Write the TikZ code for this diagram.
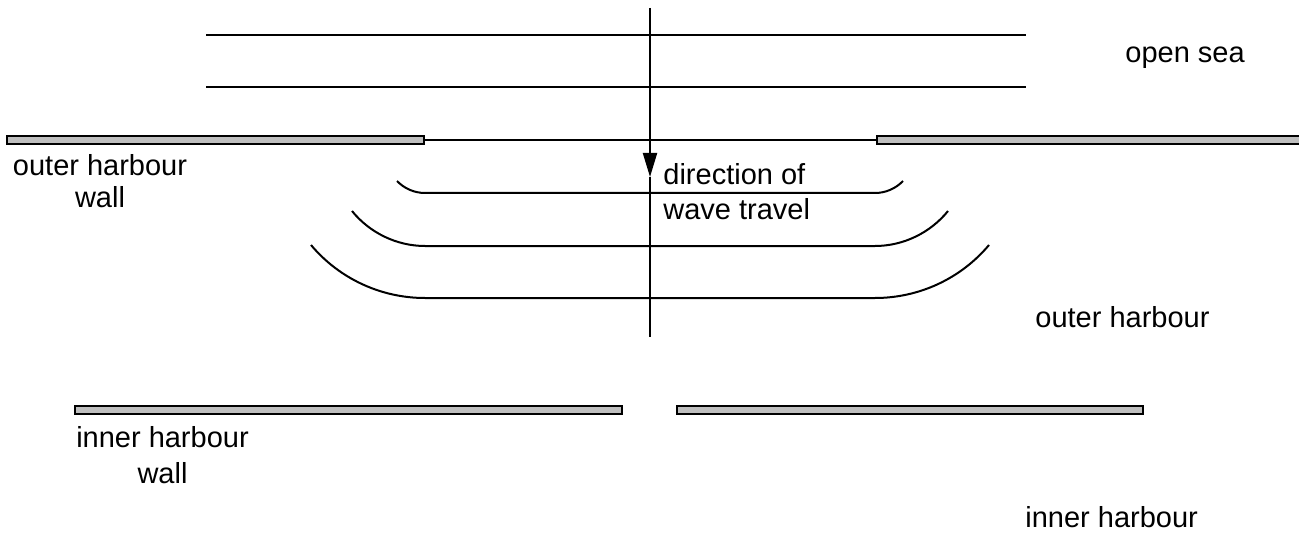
\documentclass[tikz,border=0pt]{standalone}
\usepackage{fontspec}
\setmainfont{Liberation Sans}
\usetikzlibrary{arrows.meta}
\tikzset{>=Triangle}
\tikzset{%
    wall/.style={draw=black, fill=gray!50, line width=1pt},
    crest/.style={line width=1pt},
    label/.style={inner sep=0pt, font=\fontsize{14.5}{16}\selectfont}
}

\begin{document}
\begin{tikzpicture}[x=0.5pt,y=-0.5pt]
    \useasboundingbox (0,0) rectangle (1299,534);

    % open sea
    \draw[crest] (206,35) -- (1026,35);
    \draw[crest] (206,87) -- (1026,87);

    % outer harbour wall with its gap
    \draw[wall] (7,136) rectangle (424,144);
    \draw[wall] (877,136) rectangle (1310,144);
    \coordinate (gl) at (424,140);
    \coordinate (gr) at (877,140);
    \draw[crest] (gl) -- (gr);

    % diffracted crests
    \draw[crest] (397,181) .. controls (404.3,188.6) and (414.5,193) .. (425,193)
        -- (875,193) .. controls (885.5,193) and (895.7,188.6) .. (903,181);
    \draw[crest] (352,211) .. controls (369.7,232.9) and (396.8,246) .. (425,246)
        -- (875,246) .. controls (903.2,246) and (930.3,232.9) .. (948,211);
    \draw[crest] (311,245) .. controls (339.3,278.7) and (381,298) .. (425,298)
        -- (875,298) .. controls (919,298) and (960.7,278.7) .. (989,245);

    % direction of travel
    \coordinate (top) at (650,8);
    \coordinate (tip) at (650,177);
    \coordinate (bot) at (650,337);
    \draw[->,line width=1pt,>={Triangle[length=12pt,width=7pt]}] (top) -- (tip);
    \draw[crest] (tip) -- (bot);

    % inner harbour wall
    \draw[wall] (75,406) rectangle (622,414);
    \draw[wall] (677,406) rectangle (1143,414);

    \node[label, anchor=base west] (sea) at (1125,63) {open sea};
    \node[label, anchor=base, align=center] (owall) at (100,207) {outer harbour\\wall};
    \node[label, anchor=base west, align=left, font=\fontsize{14.5}{17.5}\selectfont] (dir) at (663,220) {direction of\\wave travel};
    \node[label, anchor=base west] (outer) at (1035,327) {outer harbour};
    \node[label, anchor=base, align=center, font=\fontsize{14.5}{18}\selectfont] (iwall) at (162.5,483) {inner harbour\\wall};
    \node[label, anchor=base west] (inner) at (1025,527) {inner harbour};
\end{tikzpicture}
\end{document}
